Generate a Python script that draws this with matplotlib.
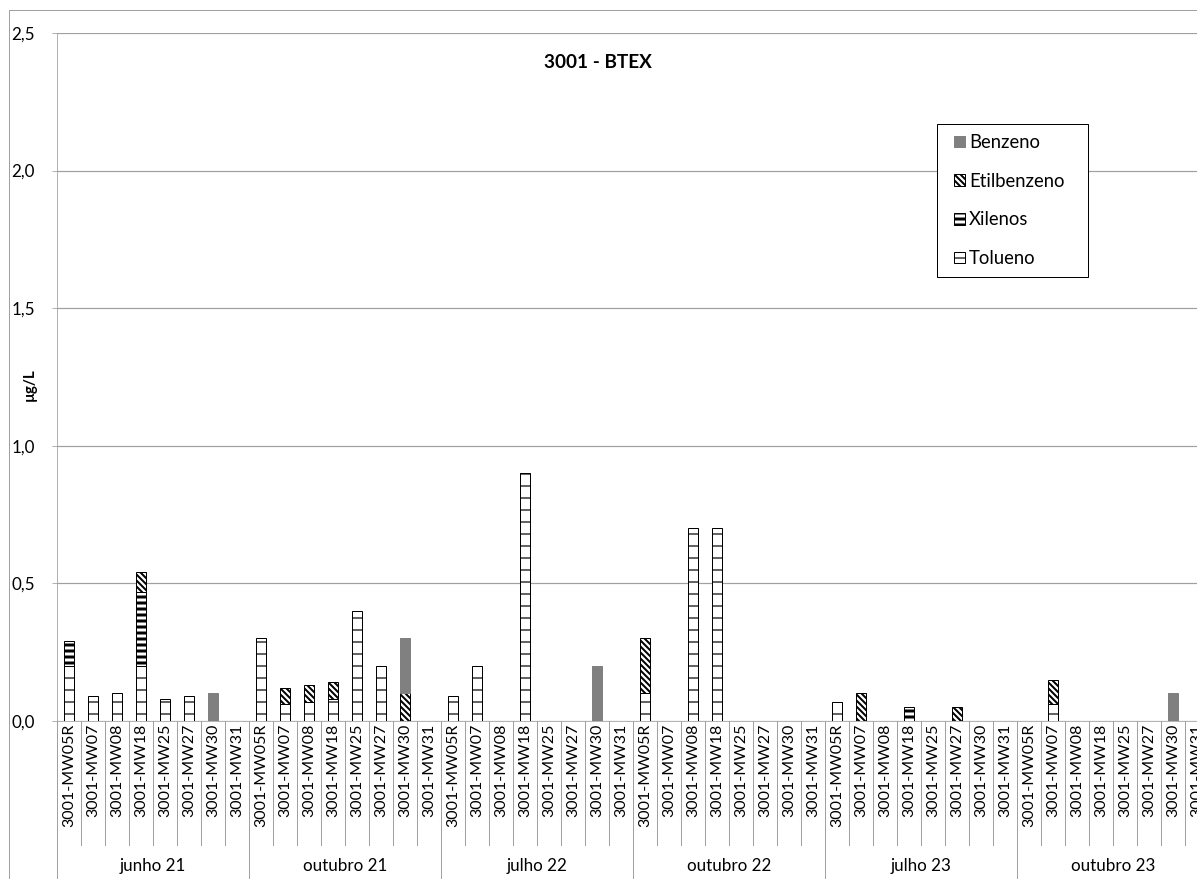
'''
Stacked BTEX concentrations per well and sampling campaign
'''
import numpy
import matplotlib
matplotlib.use('Agg')
import matplotlib.pyplot as plt
from matplotlib.patches import Rectangle, Patch

# ---------------------------------
groups = ['junho 21', 'outubro 21', 'julho 22', 'outubro 22', 'julho 23', 'outubro 23']
wells  = ['3001-MW05R', '3001-MW07', '3001-MW08', '3001-MW18',
          '3001-MW25', '3001-MW27', '3001-MW30', '3001-MW31']

# one value per well, wells repeated for every campaign (ug/L)
tolueno     = [0.20, 0.09, 0.10, 0.20, 0.08, 0.09, 0.00, 0.00,
               0.30, 0.06, 0.07, 0.08, 0.40, 0.20, 0.00, 0.00,
               0.09, 0.20, 0.00, 0.90, 0.00, 0.00, 0.00, 0.00,
               0.10, 0.00, 0.70, 0.70, 0.00, 0.00, 0.00, 0.00,
               0.07, 0.00, 0.00, 0.00, 0.00, 0.00, 0.00, 0.00,
               0.00, 0.06, 0.00, 0.00, 0.00, 0.00, 0.00, 0.00]
xilenos     = [0.09, 0.00, 0.00, 0.27, 0.00, 0.00, 0.00, 0.00,
               0.00, 0.00, 0.00, 0.00, 0.00, 0.00, 0.00, 0.00,
               0.00, 0.00, 0.00, 0.00, 0.00, 0.00, 0.00, 0.00,
               0.00, 0.00, 0.00, 0.00, 0.00, 0.00, 0.00, 0.00,
               0.00, 0.00, 0.00, 0.05, 0.00, 0.00, 0.00, 0.00,
               0.00, 0.00, 0.00, 0.00, 0.00, 0.00, 0.00, 0.00]
etilbenzeno = [0.00, 0.00, 0.00, 0.07, 0.00, 0.00, 0.00, 0.00,
               0.00, 0.06, 0.06, 0.06, 0.00, 0.00, 0.10, 0.00,
               0.00, 0.00, 0.00, 0.00, 0.00, 0.00, 0.00, 0.00,
               0.20, 0.00, 0.00, 0.00, 0.00, 0.00, 0.00, 0.00,
               0.00, 0.10, 0.00, 0.00, 0.00, 0.05, 0.00, 0.00,
               0.00, 0.09, 0.00, 0.00, 0.00, 0.00, 0.00, 0.00]
benzeno     = [0.00, 0.00, 0.00, 0.00, 0.00, 0.00, 0.10, 0.00,
               0.00, 0.00, 0.00, 0.00, 0.00, 0.00, 0.20, 0.00,
               0.00, 0.00, 0.00, 0.00, 0.00, 0.00, 0.20, 0.00,
               0.00, 0.00, 0.00, 0.00, 0.00, 0.00, 0.00, 0.00,
               0.00, 0.00, 0.00, 0.00, 0.00, 0.00, 0.00, 0.00,
               0.00, 0.00, 0.00, 0.00, 0.00, 0.00, 0.10, 0.00]

y_ticks = [0.0, 0.5, 1.0, 1.5, 2.0, 2.5]

# ---------------------------------
W, H  = 1197, 879
DPI   = 72
GREY  = '#a0a0a0'

# order is bottom to top of the stack
d_style = {
    'Tolueno'     : dict(facecolor='white',   edgecolor='black',   hatch='-'),
    'Xilenos'     : dict(facecolor='white',   edgecolor='black',   hatch='--'),
    'Etilbenzeno' : dict(facecolor='white',   edgecolor='black',   hatch='\\\\\\\\'),
    'Benzeno'     : dict(facecolor='#808080', edgecolor='#808080', hatch=None),
}
d_hatch_lw = {'Tolueno' : 1.2, 'Xilenos' : 3.0, 'Etilbenzeno' : 2.0, 'Benzeno' : 1.0}
# ------------------------------------
def _initialize() -> None:
    plt.rcParams['font.family'] = ['Lato', 'DejaVu Sans']
# ------------------------------------
def _plot_bars(ax) -> None:
    d_data = {'Tolueno' : tolueno, 'Xilenos' : xilenos,
              'Etilbenzeno' : etilbenzeno, 'Benzeno' : benzeno}
    arr_x  = numpy.arange(len(tolueno))
    bottom = numpy.zeros(len(tolueno))

    for name, values in d_data.items():
        arr_v = numpy.array(values)
        mask  = arr_v > 0
        with plt.rc_context({'hatch.linewidth' : d_hatch_lw[name]}):
            ax.bar(arr_x[mask], arr_v[mask], bottom=bottom[mask], width=0.42,
                   linewidth=1.0, zorder=3, **d_style[name])
        bottom += arr_v
# ------------------------------------
def _format_axes(ax) -> None:
    ncat = len(groups) * len(wells)
    ax.set_xlim(-0.5, ncat - 0.5)
    ax.set_ylim(0, 2.5)

    ax.set_yticks(y_ticks, [f'{v:.1f}'.replace('.', ',') for v in y_ticks])
    ax.tick_params(axis='y', length=5, color=GREY, pad=17, labelsize=17)
    ax.yaxis.grid(True, color=GREY, linewidth=1.2)
    ax.set_axisbelow(True)

    ax.set_xticks(numpy.arange(ncat), wells * len(groups), rotation=90, fontsize=16)
    ax.tick_params(axis='x', length=0, pad=3)

    for side in ['top', 'right']:
        ax.spines[side].set_visible(False)
    for side in ['left', 'bottom']:
        ax.spines[side].set_color(GREY)

    trans = ax.get_xaxis_transform()
    for iedge in range(ncat + 1):
        xpos  = iedge - 0.5
        ybot  = -0.23 if iedge % len(wells) == 0 else -0.18
        ax.plot([xpos, xpos], [0, ybot], color=GREY, lw=1, transform=trans, clip_on=False)

    for igroup, group in enumerate(groups):
        xcen = igroup * len(wells) + (len(wells) - 1) / 2
        ax.text(xcen, -0.211, group, transform=trans, ha='center', va='center', fontsize=17)
# ------------------------------------
def _add_legend(fig) -> None:
    box = Rectangle((937 / W, 1 - 277 / H), 151 / W, 153 / H, transform=fig.transFigure,
                    facecolor='white', edgecolor='black', lw=1, zorder=5)
    fig.add_artist(box)

    l_name  = ['Benzeno', 'Etilbenzeno', 'Xilenos', 'Tolueno']
    handles = [Patch(label=name, linewidth=1.0, **d_style[name]) for name in l_name]

    leg = fig.legend(handles=handles, loc='upper left', bbox_to_anchor=(954 / W, 1 - 134 / H),
                     frameon=False, fontsize=18.5, handlelength=0.6, handleheight=0.6,
                     handletextpad=0.2, labelspacing=1.17, borderpad=0, borderaxespad=0)
    leg.set_zorder(6)

    for name, patch in zip(l_name, leg.get_patches()):
        patch.set_hatch_linewidth(d_hatch_lw[name])
# ------------------------------------
def main():
    '''
    start here
    '''
    _initialize()

    fig = plt.figure(figsize=(W / DPI, H / DPI), dpi=DPI)
    ax  = fig.add_axes([57 / W, 158 / H, 1152 / W, 688 / H])

    _plot_bars(ax)
    _format_axes(ax)
    _add_legend(fig)

    fig.text(598 / W, 1 - 62 / H, '3001 - BTEX', ha='center', va='center',
             fontsize=19, fontweight='bold')
    fig.text(30 / W, 1 - 385 / H, 'µg/L', ha='center', va='center', rotation=90,
             fontsize=15, fontweight='bold')

    frame = Rectangle((9 / W, -0.01), 1.1, 1 - 10 / H + 0.01, transform=fig.transFigure,
                      fill=False, edgecolor=GREY, lw=1)
    fig.add_artist(frame)

    fig.savefig('out.png', dpi=DPI)
    plt.close(fig)
# ------------------------------------
if __name__ == '__main__':
    main()
